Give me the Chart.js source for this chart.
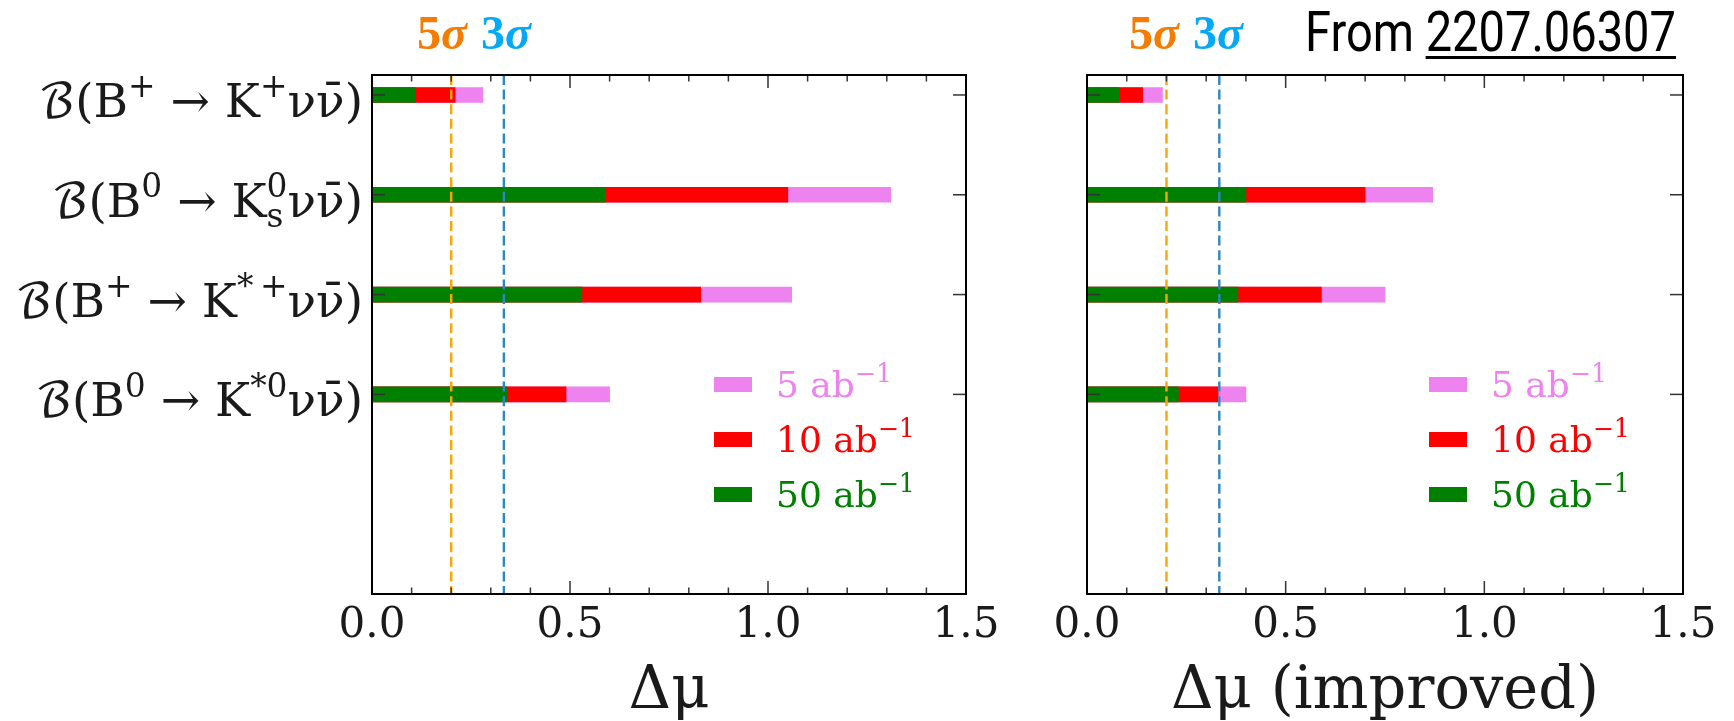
<!DOCTYPE html>
<html>
<head>
<meta charset="utf-8">
<script src="https://cdn.jsdelivr.net/npm/chart.js@4.4.0/dist/chart.umd.min.js"></script>
<style>
  html, body { margin: 0; padding: 0; background: #fff; }
  body { width: 1734px; height: 721px; position: relative; overflow: hidden; }
  canvas { position: absolute; top: 0; }
  #cLeft { left: 0; }
  #cRight { left: 1030px; }
  .sig { position: absolute; top: 9px; font-family: "Liberation Serif", "DejaVu Serif", serif;
         font-weight: bold; font-size: 48px; line-height: 48px; white-space: nowrap; }
  .sig i { font-style: italic; }
  .five { color: #f57c00; }
  .three { color: #03a9f4; }
  #src { position: absolute; left: 1305px; top: 4px; font-family: Roboto, "Noto Sans", sans-serif;
         font-weight: 400; font-size: 56px; line-height: 56px; color: #000; white-space: nowrap;
         transform: scaleX(0.84); transform-origin: left top; }
  #src u { text-decoration-thickness: 2.5px; text-underline-offset: 5px; }
</style>
</head>
<body>
<canvas id="cLeft" width="1030" height="721"></canvas>
<canvas id="cRight" width="704" height="721"></canvas>

<div class="sig five" style="left:417px">5<i>σ</i></div>
<div class="sig three" style="left:481px">3<i>σ</i></div>
<div class="sig five" style="left:1129px">5<i>σ</i></div>
<div class="sig three" style="left:1193px">3<i>σ</i></div>
<div id="src">From <u>2207.06307</u></div>

<script>
// Decay channels (rows, top to bottom); ^{..} marks superscripts, _{..} subscripts
const categories = [
  'ℬ(B^{+} → K^{+}νν\u0304)',
  'ℬ(B^{0} → K^{0}_{s}νν\u0304)',
  'ℬ(B^{+} → K^{*\u2009+}νν\u0304)',
  'ℬ(B^{0} → K^{*0}νν\u0304)'
];

// Integrated luminosity scenarios
const seriesLabels = ['5 ab^{−1}', '10 ab^{−1}', '50 ab^{−1}'];
const seriesColors = ['#ee82ee', '#ff0000', '#008000'];

// Δμ, baseline analysis
const dmu5  = [0.28, 1.31, 1.06, 0.60];
const dmu10 = [0.21, 1.05, 0.83, 0.49];
const dmu50 = [0.11, 0.59, 0.53, 0.34];

// Δμ, improved analysis
const dmuImp5  = [0.19, 0.87, 0.75, 0.40];
const dmuImp10 = [0.14, 0.70, 0.59, 0.33];
const dmuImp50 = [0.08, 0.40, 0.38, 0.23];

// Significance thresholds: 5σ and 3σ
const sigmaLines  = [0.2, 0.333];
const sigmaColors = ['#ffa500', '#2f86c3'];

// x axis
const xTicks = [0.0, 0.5, 1.0, 1.5];
const xMinorStep = 0.1;

const SERIF = '"DejaVu Serif", "DejaVu Math TeX Gyre", "DejaVu Sans", serif';

function richParts(str) {
  const parts = [];
  const re = /([\^_])\{([^}]*)\}|([^\^_]+)/g;
  let m;
  while ((m = re.exec(str))) {
    if (m[3] !== undefined) parts.push({ t: m[3], k: 0 });
    else parts.push({ t: m[2], k: m[1] === '^' ? 1 : -1 });
  }
  return parts;
}

function layoutRich(ctx, parts, size) {
  let x = 0;
  const items = [];
  let i = 0;
  while (i < parts.length) {
    const p = parts[i];
    if (p.k === 0) {
      ctx.font = size + 'px ' + SERIF;
      items.push({ t: p.t, x, dy: 0, s: size });
      x += ctx.measureText(p.t).width;
      i++;
    } else {
      const s = size * 0.7;
      ctx.font = s + 'px ' + SERIF;
      const group = [p];
      if (i + 1 < parts.length && parts[i + 1].k !== 0 && parts[i + 1].k !== p.k) group.push(parts[i + 1]);
      let wmax = 0;
      group.forEach(g => {
        wmax = Math.max(wmax, ctx.measureText(g.t).width);
        items.push({ t: g.t, x, dy: g.k === 1 ? -0.42 * size : 0.22 * size, s });
      });
      x += wmax;
      i += group.length;
    }
  }
  return { items, width: x };
}

function drawRich(ctx, str, x, y, size, color, align) {
  const L = layoutRich(ctx, richParts(str), size);
  const x0 = align === 'right' ? x - L.width : x;
  ctx.fillStyle = color;
  ctx.textAlign = 'left';
  ctx.textBaseline = 'alphabetic';
  L.items.forEach(it => {
    ctx.font = it.s + 'px ' + SERIF;
    ctx.fillText(it.t, x0 + it.x, y + it.dy);
  });
  return L.width;
}

function seg(ctx, x1, y1, x2, y2) {
  ctx.beginPath(); ctx.moveTo(x1, y1); ctx.lineTo(x2, y2); ctx.stroke();
}

// Threshold lines, inward ticks, frame, legend, row labels and x title
const panelDecor = {
  id: 'panelDecor',
  afterDatasetsDraw(chart, args, opts) {
    const { ctx, chartArea: a } = chart;
    const xs = chart.scales.x, ys = chart.scales.y;
    ctx.save();

    // 5σ / 3σ dashed lines
    ctx.lineWidth = 2.4;
    ctx.setLineDash([10, 4.6]);
    sigmaLines.forEach((v, k) => {
      ctx.strokeStyle = sigmaColors[k];
      const px = xs.getPixelForValue(v);
      seg(ctx, px, a.top, px, a.bottom);
    });
    ctx.setLineDash([]);

    // x ticks (major + minor), pointing inward on bottom and top
    ctx.strokeStyle = '#333';
    ctx.lineWidth = 1.5;
    const nMinor = Math.round((xs.max - xs.min) / xMinorStep);
    for (let j = 0; j <= nMinor; j++) {
      const v = xs.min + j * xMinorStep;
      const major = xTicks.some(t => Math.abs(t - v) < 1e-6);
      const len = major ? 13 : 6.5;
      const px = xs.getPixelForValue(v);
      seg(ctx, px, a.bottom, px, a.bottom - len);
      seg(ctx, px, a.top, px, a.top + len);
    }
    // y ticks at each row, both sides
    categories.forEach((c, i) => {
      const py = ys.getPixelForValue(categories.length - i);
      seg(ctx, a.left, py, a.left + 13, py);
      seg(ctx, a.right, py, a.right - 13, py);
    });

    // frame
    ctx.strokeStyle = '#000';
    ctx.lineWidth = 2;
    ctx.strokeRect(a.left, a.top, a.right - a.left, a.bottom - a.top);

    // legend
    seriesLabels.forEach((lab, k) => {
      const cy = a.top + 309.5 + k * 55;
      ctx.fillStyle = seriesColors[k];
      ctx.fillRect(a.left + 342, cy - 7.5, 38, 15);
      drawRich(ctx, lab, a.left + 404, cy + 12.5, 36, seriesColors[k], 'left');
    });

    // row labels
    if (opts.showLabels) {
      categories.forEach((c, i) => {
        const py = ys.getPixelForValue(categories.length - i);
        drawRich(ctx, c, a.left - 9, py + 22, 47, '#1a1a1a', 'right');
      });
    }

    // x axis title
    ctx.font = '59px ' + SERIF;
    ctx.fillStyle = '#1a1a1a';
    ctx.textAlign = 'center';
    ctx.textBaseline = 'alphabetic';
    ctx.fillText(opts.title, (a.left + a.right) / 2, a.bottom + 114);

    ctx.restore();
  }
};

function makePanel(id, values, title, showLabels, yAxisWidth, padRight) {
  const datasets = seriesLabels.map((lab, k) => ({
    label: lab.replace(/\^\{([^}]*)\}/, '$1'),
    data: categories.map((c, i) => ({ x: values[k][i], y: categories.length - i })),
    backgroundColor: seriesColors[k],
    borderWidth: 0,
    barThickness: 15,
    grouped: false,
    order: seriesLabels.length - k
  }));
  return new Chart(document.getElementById(id), {
    type: 'bar',
    data: { datasets },
    plugins: [panelDecor],
    options: {
      indexAxis: 'y',
      responsive: false,
      animation: false,
      devicePixelRatio: 1,
      layout: { padding: { top: 75, right: padRight, bottom: 0, left: 0 } },
      plugins: {
        legend: { display: false },
        tooltip: { enabled: false },
        panelDecor: { title, showLabels }
      },
      scales: {
        x: {
          type: 'linear', min: 0, max: 1.5,
          afterBuildTicks: s => { s.ticks = xTicks.map(v => ({ value: v })); },
          ticks: {
            callback: v => Number(v).toFixed(1),
            font: { family: SERIF, size: 42 },
            color: '#1a1a1a', padding: 7, maxRotation: 0, autoSkip: false
          },
          grid: { display: false, drawTicks: false },
          border: { display: false },
          afterFit: s => { s.height = 127; }
        },
        y: {
          type: 'linear', min: -1, max: 4.2, offset: false,
          ticks: { display: false },
          grid: { display: false, drawTicks: false },
          border: { display: false },
          afterFit: s => { s.width = yAxisWidth; }
        }
      }
    }
  });
}

makePanel('cLeft', [dmu5, dmu10, dmu50], 'Δμ', true, 372, 64);
makePanel('cRight', [dmuImp5, dmuImp10, dmuImp50], 'Δμ (improved)', false, 57, 51);
</script>
</body>
</html>
